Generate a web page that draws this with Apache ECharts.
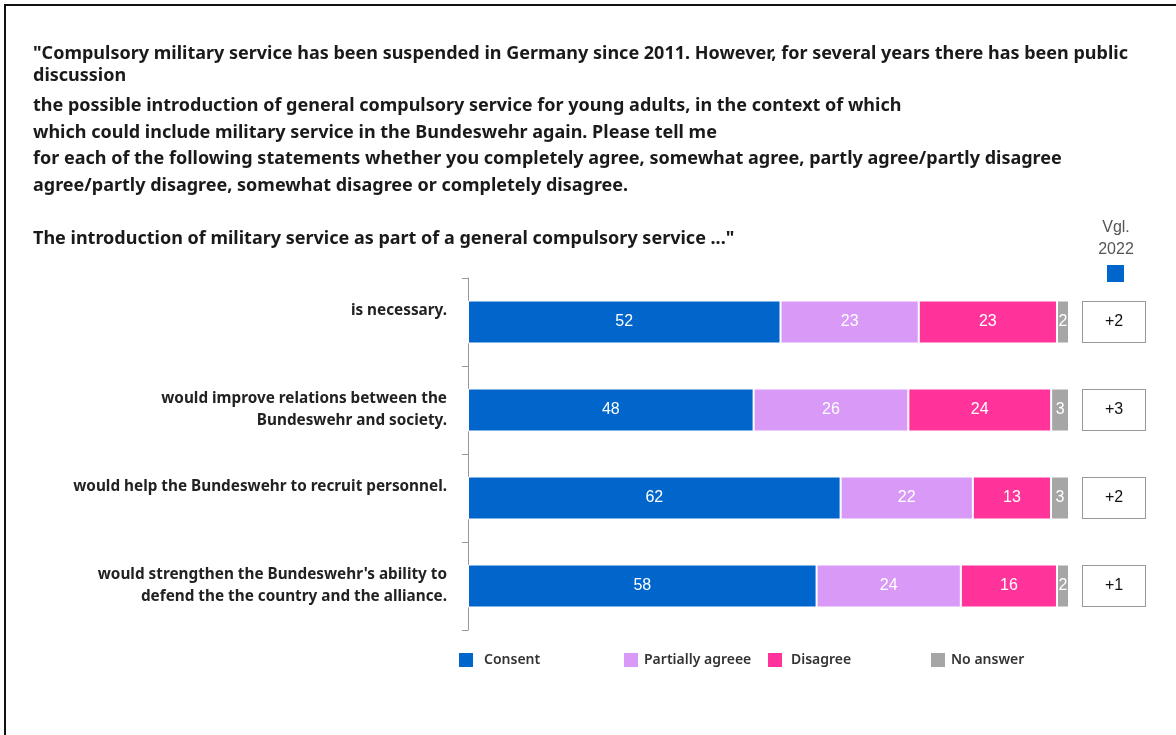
<!DOCTYPE html>
<html>
<head>
<meta charset="utf-8">
<script src="https://cdn.jsdelivr.net/npm/echarts@6/dist/echarts.min.js"></script>
<style>
  html, body { margin: 0; padding: 0; background: #fff; }
  #chart { width: 1176px; height: 735px; }
</style>
</head>
<body>
<div id="chart"></div>
<script>
// Aussagen (Kategorien)
const statements = [
    'is necessary.',
    'would improve relations between the\nBundeswehr and society.',
    'would help the Bundeswehr to recruit personnel.',
    "would strengthen the Bundeswehr's ability to\ndefend the the country and the alliance."
];
const consent = [52, 48, 62, 58];
const partially = [23, 26, 22, 24];
const disagree = [23, 24, 13, 16];
const noAnswer = [2, 3, 3, 2];
// Veränderung ggü. 2022
const vgl2022 = ['+2', '+3', '+2', '+1'];

const questionLines = [
    '"Compulsory military service has been suspended in Germany since 2011. However, for several years there has been public',
    'discussion',
    'the possible introduction of general compulsory service for young adults, in the context of which',
    'which could include military service in the Bundeswehr again. Please tell me',
    'for each of the following statements whether you completely agree, somewhat agree, partly agree/partly disagree',
    'agree/partly disagree, somewhat disagree or completely disagree.',
    'The introduction of military service as part of a general compulsory service ..."'
];
const lineY = [52, 74, 104, 131, 157, 184, 237];

const chart = echarts.init(document.getElementById('chart'));

// Zeilen auf 100 % normieren (Rundungsdifferenzen)
const totals = consent.map((v, i) => v + partially[i] + disagree[i] + noAnswer[i]);
const norm = arr => arr.map((v, i) => ({ value: v / totals[i] * 100, raw: v }));

const makeSeries = (name, arr, color) => ({
    name: name,
    type: 'bar',
    stack: 'all',
    barWidth: 43,
    data: norm(arr),
    itemStyle: { color: color, borderColor: '#fff', borderWidth: 1 },
    label: {
        show: true,
        position: 'inside',
        color: '#fff',
        fontFamily: 'Liberation Sans, Arial, sans-serif',
        fontSize: 16,
        formatter: p => p.data.raw
    }
});

const legendStyle = pad => ({
    fontFamily: 'Noto Sans', fontSize: 14, fontWeight: 600, color: '#333', padding: [0, 0, 0, pad]
});
const legendAt = (left, name, pad) => ({
    top: 651,
    left: left,
    padding: 0,
    icon: 'rect',
    itemWidth: 16,
    itemHeight: 16,
    data: [name],
    textStyle: legendStyle(pad)
});

const graphics = questionLines.map((t, i) => ({
    type: 'text',
    left: 33,
    top: lineY[i] - 7,
    style: { text: t, fill: '#1a1a1a', font: 'bold 18px "Noto Sans"' }
}));
graphics.push(
    { type: 'polyline', shape: { points: [[5, 735], [5, 5], [1176, 5]] }, style: { stroke: '#111', lineWidth: 2, fill: null } },
    { type: 'text', x: 1116, y: 228, style: { text: 'Vgl.', fill: '#555', font: '16px "Liberation Sans", Arial', align: 'center', verticalAlign: 'middle' } },
    { type: 'text', x: 1116, y: 250, style: { text: '2022', fill: '#555', font: '16px "Liberation Sans", Arial', align: 'center', verticalAlign: 'middle' } },
    { type: 'rect', shape: { x: 1107, y: 265, width: 17, height: 17 }, style: { fill: '#0066cc' } }
);

const option = {
    backgroundColor: '#fff',
    animation: false,
    grid: { left: 468, right: 107, top: 278, bottom: 105 },
    xAxis: { type: 'value', min: 0, max: 100, show: false },
    yAxis: [
        {
            type: 'category',
            data: statements,
            inverse: true,
            offset: 5,
            axisLine: { show: true, lineStyle: { color: '#999' } },
            axisTick: { show: true, length: 6, lineStyle: { color: '#999' } },
            axisLabel: {
                margin: 16,
                lineHeight: 22,
                align: 'right',
                fontFamily: 'Noto Sans',
                fontSize: 15.3,
                fontWeight: 'bold',
                color: '#222',
                // einzeilige Aussagen sitzen im Original oben in der Zeile
                formatter: v => v.indexOf('\n') < 0 ? v + '\n ' : v
            }
        },
        {
            type: 'category',
            data: statements,
            inverse: true,
            position: 'right',
            axisLine: { show: false },
            axisTick: { show: false },
            axisLabel: {
                margin: 14,
                formatter: (v, i) => '{b|' + vgl2022[i] + '}',
                rich: {
                    b: {
                        width: 62,
                        height: 40,
                        align: 'center',
                        backgroundColor: '#fff',
                        borderColor: '#999',
                        borderWidth: 1,
                        color: '#111',
                        fontSize: 16,
                        fontFamily: 'Liberation Sans, Arial, sans-serif'
                    }
                }
            }
        }
    ],
    legend: [
        legendAt(457, 'Consent', 5),
        legendAt(622, 'Partially agreee', 0),
        legendAt(766, 'Disagree', 3),
        legendAt(929, 'No answer', 0)
    ],
    graphic: graphics,
    series: [
        makeSeries('Consent', consent, '#0066cc'),
        makeSeries('Partially agreee', partially, '#d999f7'),
        makeSeries('Disagree', disagree, '#ff3399'),
        makeSeries('No answer', noAnswer, '#a6a6a6')
    ]
};

chart.setOption(option);
</script>
</body>
</html>
